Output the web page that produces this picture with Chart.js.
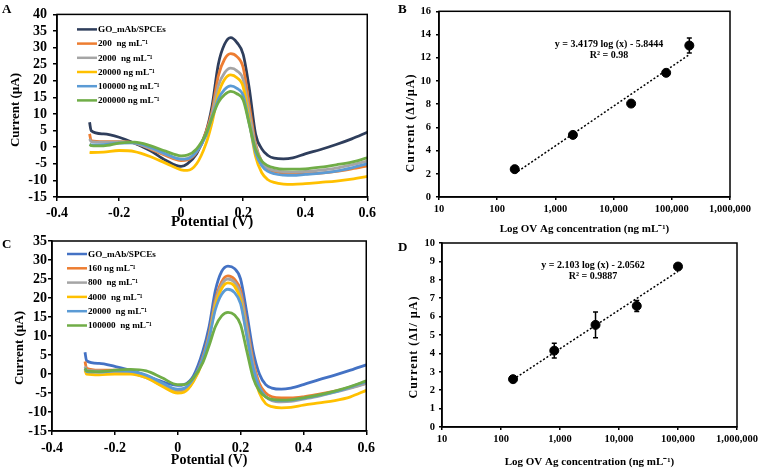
<!DOCTYPE html>
<html>
<head>
<meta charset="utf-8">
<script src="https://cdn.jsdelivr.net/npm/chart.js@4.4.0/dist/chart.umd.min.js"></script>
<style>
  body { margin: 0; background: #fff; font-family: "Liberation Serif", "Times New Roman", serif; }
  #fig { position: relative; width: 761px; height: 468px; overflow: hidden; background: #fff; }
  canvas { position: absolute; }
  .letter { position: absolute; font-weight: bold; font-size: 13px; line-height: 13px; color: #000; }
  .ytitle { position: absolute; font-weight: bold; color: #000; white-space: pre; transform: translate(-50%, -50%) rotate(-90deg); }
  .eq { position: absolute; font-weight: bold; font-size: 10px; line-height: 10.5px; color: #000; text-align: center; white-space: pre; transform: translateX(-50%); }
</style>
</head>
<body>
<div id="fig">
  <canvas id="chartA" width="380" height="230" style="left:0;top:0"></canvas>
  <canvas id="chartB" width="381" height="238" style="left:380px;top:0"></canvas>
  <canvas id="chartC" width="380" height="238" style="left:0;top:230px"></canvas>
  <canvas id="chartD" width="381" height="238" style="left:380px;top:230px"></canvas>

  <div class="letter" style="left:2px;top:2px">A</div>
  <div class="letter" style="left:398px;top:2px">B</div>
  <div class="letter" style="left:2px;top:237px">C</div>
  <div class="letter" style="left:398px;top:240px">D</div>

  <div class="ytitle" style="left:15px;top:110px;font-size:13px">Current (µA)</div>
  <div class="ytitle" style="left:410px;top:123px;font-size:12px;letter-spacing:1px">Current (ΔI/µA)</div>
  <div class="ytitle" style="left:19px;top:348px;font-size:13px">Current (µA)</div>
  <div class="ytitle" style="left:413px;top:347px;font-size:12px;letter-spacing:1px">Current (ΔI/ µA)</div>

  <div class="eq" style="left:609px;top:39px">y = 3.4179 log (x) - 5.8444
R² = 0.98</div>
  <div class="eq" style="left:593px;top:260px">y = 2.103 log (x) - 2.0562
R² = 0.9887</div>
</div>

<script>
// Potential axis (V) shared by both voltammogram panels
const potential = [-0.295, -0.29, -0.25, -0.2, -0.15, -0.1, -0.05, 0, 0.02, 0.05, 0.08, 0.1, 0.12, 0.14, 0.16, 0.18, 0.2, 0.22, 0.24, 0.26, 0.28, 0.3, 0.33, 0.36, 0.4, 0.45, 0.5, 0.55, 0.6];
const potentialTicks = [-0.4, -0.2, 0, 0.2, 0.4, 0.6];
const potentialTickLabels = ['-0.4', '-0.2', '0', '0.2', '0.4', '0.6'];

// Panel A
const labelsA = ['GO_mAb/SPCEs', '200  ng mL⁻¹', '2000  ng mL⁻¹', '20000 ng mL⁻¹', '100000 ng mL⁻¹', '200000 ng mL⁻¹'];
const colorsA = ['#2F3E5C', '#ED7D31', '#A5A5A5', '#FFC000', '#5B9BD5', '#70AD47'];
const goA     = [7.5, 5.0, 4.0, 3.0, 1.2, -1.0, -3.9, -5.8, -5.0, -2.0, 4.5, 12.5, 25.0, 31.0, 33.0, 31.5, 28.0, 17.5, 4.0, -0.5, -2.5, -3.3, -3.5, -3.2, -2.0, -0.7, 0.8, 2.5, 4.5];
const a200    = [4.0, 2.0, 1.7, 1.7, 1.3, -0.5, -2.5, -4.0, -3.8, -1.5, 4.5, 11.0, 21.5, 26.5, 28.2, 27.3, 24.0, 12.5, 1.0, -4.4, -6.5, -7.3, -7.8, -8.0, -8.0, -7.8, -7.3, -6.5, -5.6];
const a2000   = [2.5, 1.7, 1.5, 1.6, 1.2, -0.3, -2.2, -3.6, -3.4, -1.2, 4.0, 10.0, 18.5, 22.4, 23.8, 23.0, 20.4, 10.3, 0.3, -4.4, -6.3, -7.0, -7.4, -7.5, -7.3, -6.9, -6.3, -5.3, -4.2];
const a20000  = [-1.5, -1.6, -1.5, -1.0, -1.3, -2.8, -4.8, -6.8, -7.0, -5.0, 1.0, 7.5, 16.0, 20.4, 21.8, 20.9, 18.2, 7.7, -2.8, -7.7, -9.8, -10.6, -11.1, -11.2, -11.0, -10.6, -10.2, -9.6, -8.8];
const a100000 = [0.8, 0.7, 0.8, 1.2, 1.3, 0.0, -2.0, -3.6, -3.5, -1.3, 3.5, 9.0, 14.5, 17.4, 18.5, 17.7, 15.6, 7.0, -1.6, -5.6, -7.3, -8.0, -8.4, -8.5, -8.2, -7.8, -7.2, -6.2, -5.0];
const a200000 = [0.8, 0.5, 0.4, 1.2, 1.5, 0.5, -1.2, -2.6, -2.4, -0.5, 4.0, 9.0, 13.5, 15.8, 16.8, 16.1, 14.2, 6.8, -0.7, -4.2, -5.6, -6.2, -6.6, -6.6, -6.5, -6.0, -5.3, -4.5, -3.2];
const ticksA = [-15, -10, -5, 0, 5, 10, 15, 20, 25, 30, 35, 40];

// Panel C
const labelsC = ['GO_mAb/SPCEs', '160 ng mL⁻¹', '800  ng mL⁻¹', '4000  ng mL⁻¹', '20000  ng mL⁻¹', '100000  ng mL⁻¹'];
const colorsC = ['#4472C4', '#ED7D31', '#A5A5A5', '#FFC000', '#5B9BD5', '#70AD47'];
const goC     = [5.7, 3.5, 2.8, 2.0, 1.0, -0.5, -2.0, -3.0, -2.8, -0.5, 6.0, 12.5, 22.0, 27.0, 28.4, 27.8, 25.0, 16.0, 6.0, 0.0, -2.8, -3.7, -4.0, -3.7, -2.8, -1.5, -0.3, 1.0, 2.4];
const c160    = [3.3, 1.5, 1.0, 1.0, 0.7, -0.5, -2.5, -4.5, -4.3, -1.5, 4.5, 10.5, 19.5, 24.3, 25.8, 25.0, 22.0, 13.0, 3.5, -2.5, -5.0, -6.0, -6.3, -6.3, -6.0, -5.3, -4.5, -3.6, -2.4];
const c800    = [2.0, 1.0, 0.8, 0.5, 0.2, -1.0, -3.0, -4.8, -4.6, -1.8, 4.0, 10.0, 18.8, 23.5, 25.0, 24.2, 21.0, 12.0, 2.5, -3.5, -6.0, -7.0, -7.3, -7.2, -6.6, -5.8, -4.8, -3.7, -2.5];
const c4000   = [1.0, 0.0, -0.2, 0.0, 0.0, -1.0, -3.2, -5.0, -4.8, -2.0, 3.5, 9.5, 18.0, 22.5, 24.0, 23.2, 19.5, 10.0, 0.5, -5.0, -7.8, -8.6, -8.9, -8.8, -8.2, -7.6, -7.0, -6.0, -4.3];
const c20000  = [1.5, 0.6, 0.5, 0.8, 0.7, -0.3, -2.3, -4.0, -3.8, -1.2, 4.0, 9.5, 17.0, 21.0, 22.3, 21.5, 18.5, 10.0, 1.5, -3.5, -6.0, -6.8, -7.0, -6.9, -6.4, -5.6, -4.7, -3.4, -2.0];
const c100000 = [1.5, 0.8, 0.6, 1.0, 1.2, 0.8, -1.0, -2.8, -2.8, -1.0, 3.0, 7.5, 12.5, 15.3, 16.2, 15.6, 13.0, 6.0, -1.0, -4.5, -6.0, -6.7, -6.9, -6.8, -6.3, -5.5, -4.5, -3.3, -1.8];
const ticksC = [-15, -10, -5, 0, 5, 10, 15, 20, 25, 30, 35];

// Panels B and D (calibration)
const concTicks = [10, 100, 1000, 10000, 100000, 1000000];
const concTickLabels = ['10', '100', '1,000', '10,000', '100,000', '1,000,000'];

const concB = [200, 2000, 20000, 80000, 200000];
const currentB = [2.4, 5.35, 8.05, 10.7, 13.05];
const errB = [0.25, 0.1, 0.1, 0.1, 0.65];
const trendXB = [200, 200000];
const trendYB = [2.02, 12.27];
const ticksB = [0, 2, 4, 6, 8, 10, 12, 14, 16];

const concD = [160, 800, 4000, 20000, 100000];
const currentD = [2.6, 4.15, 5.55, 6.58, 8.72];
const errD = [0.05, 0.4, 0.7, 0.3, 0.05];
const trendXD = [160, 100000];
const trendYD = [2.58, 8.46];
const ticksD = [0, 1, 2, 3, 4, 5, 6, 7, 8, 9, 10];

const FONT = '"Liberation Serif", "Times New Roman", serif';
Chart.defaults.font.family = FONT;
Chart.defaults.font.weight = 'bold';
Chart.defaults.color = '#000';

// black box around the plot area
const frame = {
  id: 'frame',
  afterDraw(chart) {
    const a = chart.chartArea, ctx = chart.ctx;
    ctx.save();
    ctx.strokeStyle = '#000';
    ctx.lineWidth = 1.5;
    ctx.strokeRect(a.left, a.top, a.right - a.left, a.bottom - a.top);
    ctx.restore();
  }
};

// vertical legend drawn inside the plot area
const insideLegend = {
  id: 'insideLegend',
  afterDraw(chart, args, opts) {
    const a = chart.chartArea, ctx = chart.ctx;
    ctx.save();
    ctx.font = 'bold ' + opts.fontSize + 'px ' + FONT;
    ctx.textBaseline = 'middle';
    ctx.textAlign = 'left';
    chart.data.datasets.forEach((ds, i) => {
      const x = a.left + opts.dx;
      const y = a.top + opts.dy + i * opts.step;
      ctx.strokeStyle = ds.borderColor;
      ctx.lineWidth = 2.5;
      ctx.beginPath();
      ctx.moveTo(x, y);
      ctx.lineTo(x + opts.len, y);
      ctx.stroke();
      ctx.fillStyle = '#000';
      ctx.fillText(ds.label, x + opts.len + 1, y + 0.5);
    });
    ctx.restore();
  }
};

// error bars for the first dataset
const errorBars = {
  id: 'errorBars',
  afterDatasetsDraw(chart, args, opts) {
    const meta = chart.getDatasetMeta(0);
    const ys = chart.scales.y, ctx = chart.ctx;
    const data = chart.data.datasets[0].data;
    ctx.save();
    ctx.strokeStyle = '#000';
    ctx.lineWidth = 1.5;
    meta.data.forEach((pt, i) => {
      const e = opts.errors[i];
      if (!e) return;
      const t = ys.getPixelForValue(data[i].y + e);
      const b = ys.getPixelForValue(data[i].y - e);
      ctx.beginPath();
      ctx.moveTo(pt.x, t); ctx.lineTo(pt.x, b);
      ctx.moveTo(pt.x - 2.5, t); ctx.lineTo(pt.x + 2.5, t);
      ctx.moveTo(pt.x - 2.5, b); ctx.lineTo(pt.x + 2.5, b);
      ctx.stroke();
    });
    ctx.restore();
  }
};

function toPoints(xs, ys) {
  return xs.map((x, i) => ({ x: x, y: ys[i] }));
}

function voltChart(id, labels, colors, series, yTicks, box, legend) {
  const datasets = series.map((s, i) => ({
    label: labels[i],
    data: toPoints(potential, s),
    borderColor: colors[i],
    backgroundColor: colors[i],
    borderWidth: 2.8,
    pointRadius: 0,
    cubicInterpolationMode: 'monotone',
    fill: false,
    order: -i
  }));
  return new Chart(document.getElementById(id), {
    type: 'line',
    data: { datasets: datasets },
    plugins: [frame, insideLegend],
    options: {
      responsive: false,
      animation: false,
      layout: { padding: { top: box.top, right: box.right, left: 0, bottom: 0 } },
      plugins: {
        legend: { display: false },
        tooltip: { enabled: false },
        insideLegend: legend
      },
      scales: {
        x: {
          type: 'linear',
          min: -0.4,
          max: 0.6,
          afterBuildTicks: s => { s.ticks = potentialTicks.map(v => ({ value: v })); },
          afterFit: s => { s.height = box.xHeight; },
          grid: { drawOnChartArea: false, drawTicks: true, tickLength: 4, color: '#000', lineWidth: 1.5 },
          border: { display: true, color: '#000', width: 1.5 },
          ticks: {
            autoSkip: false, maxRotation: 0, padding: box.xPad,
            font: { size: 14, weight: 'bold' },
            callback: (v, i) => potentialTickLabels[i]
          },
          title: {
            display: true, text: 'Potential (V)',
            font: { size: box.titleSize, weight: 'bold', lineHeight: 1 },
            padding: { top: 0, bottom: box.titlePad }
          }
        },
        y: {
          min: yTicks[0],
          max: yTicks[yTicks.length - 1],
          afterBuildTicks: s => { s.ticks = yTicks.map(v => ({ value: v })); },
          afterFit: s => { s.width = box.yWidth; },
          grid: { drawOnChartArea: false, drawTicks: true, tickLength: 4, color: '#000', lineWidth: 1.5 },
          border: { display: true, color: '#000', width: 1.5 },
          ticks: { autoSkip: false, padding: box.yPad, font: { size: 14, weight: 'bold' } }
        }
      }
    }
  });
}

function calChart(id, conc, current, errs, trendX, trendY, yTicks, box) {
  return new Chart(document.getElementById(id), {
    type: 'scatter',
    data: {
      datasets: [
        {
          data: toPoints(conc, current),
          pointRadius: 4.5,
          pointBackgroundColor: '#000',
          pointBorderColor: '#000',
          showLine: false
        },
        {
          data: toPoints(trendX, trendY),
          showLine: true,
          borderColor: '#000',
          borderWidth: 1.5,
          borderDash: [2, 2],
          pointRadius: 0
        }
      ]
    },
    plugins: [frame, errorBars],
    options: {
      responsive: false,
      animation: false,
      layout: { padding: { top: box.top, right: box.right, left: 0, bottom: 0 } },
      plugins: {
        legend: { display: false },
        tooltip: { enabled: false },
        errorBars: { errors: errs }
      },
      scales: {
        x: {
          type: 'logarithmic',
          min: concTicks[0],
          max: concTicks[concTicks.length - 1],
          afterBuildTicks: s => { s.ticks = concTicks.map(v => ({ value: v })); },
          afterFit: s => { s.height = box.xHeight; },
          grid: { drawOnChartArea: false, drawTicks: true, tickLength: 3, color: '#000', lineWidth: 1.5 },
          border: { display: true, color: '#000', width: 1.5 },
          ticks: {
            autoSkip: false, maxRotation: 0, padding: box.xPad,
            font: { size: 10.5, weight: 'bold' },
            callback: (v, i) => concTickLabels[i]
          },
          title: {
            display: true, text: 'Log OV Ag concentration (ng mL⁻¹)',
            font: { size: 11, weight: 'bold', lineHeight: 1 },
            padding: { top: 0, bottom: box.titlePad }
          }
        },
        y: {
          min: yTicks[0],
          max: yTicks[yTicks.length - 1],
          afterBuildTicks: s => { s.ticks = yTicks.map(v => ({ value: v })); },
          afterFit: s => { s.width = box.yWidth; },
          grid: { drawOnChartArea: false, drawTicks: true, tickLength: 3, color: '#000', lineWidth: 1.5 },
          border: { display: true, color: '#000', width: 1.5 },
          ticks: { autoSkip: false, padding: box.yPad, font: { size: 10.5, weight: 'bold' } }
        }
      }
    }
  });
}

voltChart('chartA', labelsA, colorsA, [goA, a200, a2000, a20000, a100000, a200000], ticksA,
  { top: 7, right: 12, yWidth: 57, xHeight: 33, xPad: 4, yPad: 6, titleSize: 15, titlePad: 0 },
  { dx: 20, dy: 15, step: 14.2, len: 20, fontSize: 9.2 });

calChart('chartB', concB, currentB, errB, trendXB, trendYB, ticksB,
  { top: 5, right: 31, yWidth: 59, xHeight: 41, xPad: 3, yPad: 5, titlePad: 3.5 });

voltChart('chartC', labelsC, colorsC, [goC, c160, c800, c4000, c20000, c100000], ticksC,
  { top: 11, right: 13, yWidth: 52, xHeight: 37, xPad: 5, yPad: 1, titleSize: 14, titlePad: 1 },
  { dx: 15, dy: 13, step: 14.3, len: 20, fontSize: 9.2 });

calChart('chartD', concD, currentD, errD, trendXD, trendYD, ticksD,
  { top: 13, right: 19, yWidth: 62, xHeight: 41, xPad: 3, yPad: 4, titlePad: 0.5 });
</script>
</body>
</html>
